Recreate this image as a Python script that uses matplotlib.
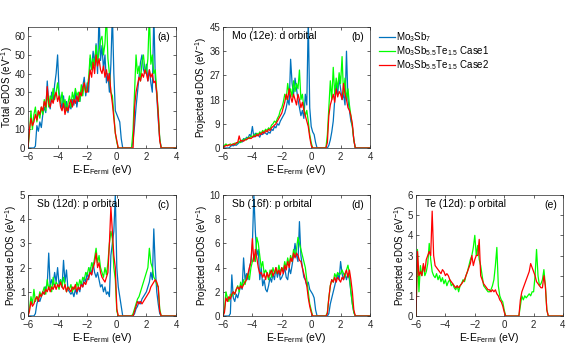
import numpy as np
import matplotlib
matplotlib.use('Agg')
import matplotlib.pyplot as plt

plt.rcParams['font.family'] = ['Liberation Sans', 'DejaVu Sans']
plt.rcParams['mathtext.fontset'] = 'custom'
plt.rcParams['mathtext.rm'] = 'Liberation Sans'
plt.rcParams['mathtext.it'] = 'Liberation Sans:italic'
plt.rcParams['font.size'] = 7

# energy grid (eV, E - E_Fermi), values given from -6.0 to 3.2, zero above
energy = np.round(np.arange(-6.0, 4.05, 0.1), 1)

# (a) total eDOS
a_blue = [0, 0, 0, 0, 0, 1, 12, 9, 14, 11,
          18, 22, 19, 36, 24, 21, 30, 25, 34, 40,
          50, 30, 26, 21, 28, 20, 25, 19, 23, 21,
          26, 23, 30, 22, 28, 25, 31, 33, 38, 28,
          35, 30, 48, 43, 52, 45, 56, 40, 72, 47,
          55, 42, 50, 35, 40, 30, 45, 72, 40, 20,
          18, 16, 14, 5, 0, 0, 0, 0, 0, 0,
          0, 4, 12, 22, 30, 38, 46, 50, 42, 40,
          45, 36, 42, 35, 30, 72, 38, 28, 15, 5,
          0, 0, 0]
a_green = [0, 8, 20, 10, 18, 22, 14, 20, 16, 22,
           18, 26, 20, 30, 22, 28, 25, 32, 26, 30,
           35, 28, 24, 30, 22, 26, 20, 24, 28, 22,
           30, 26, 32, 28, 30, 25, 34, 28, 35, 30,
           32, 38, 50, 42, 48, 44, 55, 46, 52, 58,
           60, 50, 56, 72, 48, 40, 30, 28, 18, 8,
           3, 0, 0, 0, 0, 0, 0, 0, 0, 0,
           0, 10, 30, 50, 40, 44, 36, 46, 50, 42,
           40, 48, 72, 45, 50, 40, 42, 30, 20, 5,
           0, 0, 0]
a_red = [0, 10, 16, 12, 14, 18, 15, 20, 18, 22,
         20, 25, 22, 33, 24, 22, 26, 24, 28, 30,
         25, 28, 22, 20, 24, 18, 22, 20, 24, 26,
         22, 26, 24, 28, 25, 30, 28, 32, 35, 30,
         30, 36, 42, 38, 46, 40, 50, 44, 48, 42,
         40, 44, 38, 42, 36, 40, 30, 24, 16, 8,
         4, 0, 0, 0, 0, 0, 0, 0, 0, 0,
         0, 0, 22, 30, 34, 38, 36, 40, 38, 42,
         40, 36, 42, 38, 40, 35, 36, 30, 18, 4,
         0, 0, 0]

# (b) Mo (12e) d orbital
b_blue = [0, 0, 0, 0, 0, 0.5, 1.0, 0.8, 1.2, 1.0,
          1.5, 2.0, 2.5, 2.2, 3.5, 3.0, 4.0, 3.5, 5.0, 4.5,
          8.0, 4.0, 5.5, 4.5, 5.0, 4.0, 5.5, 5.0, 6.0, 5.5,
          5.0, 6.0, 5.5, 7.0, 6.5, 8.0, 7.5, 9.0, 8.5, 10.0,
          11.0, 12.0, 13.0, 15.0, 18.0, 16.0, 33.0, 24.0, 20.0, 26.0,
          22.0, 18.0, 15.0, 12.0, 14.0, 11.0, 20.0, 16.0, 48.0, 15.0,
          8.0, 6.0, 5.0, 2.0, 0, 0, 0, 0, 0, 0,
          0, 0, 1.0, 3.0, 6.0, 10.0, 18.0, 24.0, 20.0, 26.0,
          22.0, 18.0, 20.0, 16.0, 36.0, 18.0, 14.0, 10.0, 8.0, 3.0,
          0, 0, 0]
b_green = [0, 1.0, 1.5, 1.0, 1.2, 1.5, 1.2, 1.5, 1.8, 1.5,
           2.0, 2.5, 2.0, 3.0, 2.8, 3.5, 3.0, 4.0, 3.5, 4.5,
           4.0, 5.0, 4.5, 5.5, 5.0, 6.0, 5.5, 6.5, 6.0, 7.0,
           6.5, 7.5, 7.0, 8.5, 9.0, 10.0, 9.5, 11.0, 12.0, 14.0,
           15.0, 17.0, 20.0, 18.0, 24.0, 20.0, 22.0, 19.0, 25.0, 21.0,
           24.0, 22.0, 29.0, 18.0, 20.0, 15.0, 12.0, 14.0, 10.0, 5.0,
           2.0, 0, 0, 0, 0, 0, 0, 0, 0, 0,
           0, 5.0, 15.0, 25.0, 18.0, 30.0, 20.0, 26.0, 22.0, 28.0,
           24.0, 34.0, 20.0, 26.0, 18.0, 22.0, 16.0, 12.0, 8.0, 3.0,
           0, 0, 0]
b_red = [0, 0.5, 1.0, 0.8, 1.2, 1.0, 1.2, 1.5, 1.2, 2.0,
         2.0, 4.5, 2.5, 2.8, 2.5, 3.0, 3.2, 3.5, 3.8, 3.5,
         4.0, 4.5, 4.2, 5.0, 4.5, 5.5, 5.0, 6.0, 5.5, 6.5,
         6.0, 7.0, 6.5, 7.5, 8.0, 8.5, 9.0, 10.0, 11.0, 12.0,
         13.0, 15.0, 17.0, 20.0, 18.0, 22.0, 19.0, 17.0, 20.0, 18.0,
         16.0, 20.0, 18.0, 15.0, 17.0, 14.0, 12.0, 10.0, 8.0, 4.0,
         1.0, 0, 0, 0, 0, 0, 0, 0, 0, 0,
         0, 2.0, 12.0, 16.0, 18.0, 20.0, 17.0, 22.0, 19.0, 21.0,
         20.0, 18.0, 24.0, 20.0, 18.0, 15.0, 14.0, 12.0, 9.0, 3.0,
         0, 0, 0]

# (c) Sb (12d) p orbital
c_blue = [0, 0, 0, 0, 0, 0.1, 0.5, 0.7, 0.6, 0.8,
          1.0, 0.9, 1.2, 1.3, 2.6, 1.2, 1.5, 1.3, 1.8, 1.4,
          2.0, 1.3, 1.5, 1.2, 2.3, 1.4, 1.9, 1.1, 1.0, 0.9,
          1.0, 0.8, 1.1, 0.9, 1.2, 1.0, 1.4, 1.2, 1.6, 1.4,
          1.8, 1.5, 2.0, 1.7, 2.2, 1.8, 1.6, 1.8, 1.5, 1.2,
          1.3, 1.0, 1.2, 0.9, 1.0, 0.8, 2.5, 3.0, 3.5, 5.0,
          2.0, 1.2, 0.8, 0.4, 0, 0, 0, 0, 0, 0,
          0, 0, 0.1, 0.3, 0.4, 0.6, 0.5, 0.7, 0.8, 0.9,
          1.0, 1.2, 1.4, 1.8, 1.5, 3.6, 2.0, 1.0, 0.5, 0.1,
          0, 0, 0]
c_green = [0, 0.3, 0.8, 0.5, 1.1, 0.6, 0.8, 0.7, 1.0, 0.8,
           1.0, 1.2, 0.9, 1.5, 1.1, 1.3, 1.0, 1.6, 1.2, 1.4,
           1.3, 1.1, 1.5, 1.2, 1.6, 1.3, 1.0, 1.2, 1.1, 1.3,
           1.0, 1.2, 1.1, 1.4, 1.2, 1.5, 1.3, 1.6, 1.5, 1.8,
           1.7, 2.0, 1.8, 2.2, 2.0, 2.4, 2.8, 2.2, 2.5, 2.0,
           1.8, 1.6, 2.0, 1.7, 2.2, 3.0, 3.5, 3.2, 2.0, 1.5,
           0.2, 0, 0, 0, 0, 0, 0, 0, 0, 0,
           0, 0.1, 0.3, 0.5, 0.7, 0.8, 1.0, 1.2, 1.4, 1.6,
           1.8, 2.0, 2.8, 2.2, 2.0, 1.6, 1.5, 1.3, 1.2, 0.3,
           0, 0, 0]
c_red = [0, 0.2, 0.6, 0.4, 0.5, 0.7, 0.8, 0.6, 0.9, 0.8,
         1.0, 0.9, 1.1, 1.0, 1.2, 1.0, 1.2, 1.1, 1.3, 1.1,
         1.3, 1.2, 1.4, 1.2, 1.1, 1.3, 1.0, 1.2, 1.1, 1.0,
         1.2, 1.1, 1.3, 1.0, 1.2, 1.1, 1.3, 1.2, 1.4, 1.3,
         1.5, 1.6, 1.8, 1.7, 2.0, 2.2, 2.6, 2.0, 2.2, 1.8,
         1.6, 1.5, 1.4, 1.6, 1.8, 3.0, 4.5, 3.5, 2.5, 2.0,
         0.3, 0, 0, 0, 0, 0, 0, 0, 0, 0,
         0, 0, 0.2, 0.4, 0.6, 0.5, 0.6, 0.5, 0.6, 0.7,
         0.8, 0.9, 1.0, 1.2, 1.3, 1.4, 1.5, 1.4, 1.2, 0.2,
         0, 0, 0]

# (d) Sb (16f) p orbital
d_blue = [0, 0, 0, 0, 0, 0.2, 3.4, 1.5, 1.2, 1.8,
          1.5, 2.0, 2.5, 2.2, 4.8, 3.0, 3.5, 3.0, 4.0, 4.5,
          6.0, 10.0, 7.0, 5.0, 5.5, 3.0, 4.0, 2.5, 3.0, 2.2,
          2.0, 2.5, 3.2, 2.8, 3.5, 3.0, 4.0, 3.2, 3.8, 3.0,
          3.2, 3.5, 4.0, 3.2, 3.0, 4.0, 3.5, 4.2, 5.0, 6.0,
          5.0, 4.5, 7.8, 5.0, 4.0, 3.2, 3.0, 2.5, 2.8, 2.2,
          2.0, 1.8, 1.5, 0.5, 0, 0, 0, 0, 0, 0,
          0, 0, 0.2, 1.0, 1.5, 2.0, 2.5, 3.0, 3.5, 3.0,
          4.5, 3.5, 3.0, 3.5, 3.0, 3.5, 3.0, 2.0, 1.0, 0.3,
          0, 0, 0]
d_green = [0, 0.5, 2.0, 1.5, 1.2, 1.8, 1.6, 2.0, 1.8, 2.2,
           2.5, 2.0, 2.8, 2.4, 3.0, 2.6, 3.2, 3.5, 3.0, 4.0,
           4.5, 5.0, 4.5, 6.5, 6.0, 5.0, 4.0, 4.5, 3.5, 3.8,
           3.5, 3.0, 3.8, 3.2, 4.0, 3.5, 3.8, 3.5, 4.2, 3.6,
           4.0, 3.8, 4.5, 4.0, 4.8, 4.2, 5.0, 4.5, 5.5, 5.0,
           5.5, 6.5, 6.0, 5.5, 5.0, 4.5, 4.0, 3.0, 2.0, 1.0,
           0.5, 0, 0, 0, 0, 0, 0, 0, 0, 0,
           0, 0.3, 1.5, 2.5, 3.0, 2.8, 3.5, 3.2, 3.6, 3.4,
           3.5, 3.8, 3.5, 3.2, 3.8, 4.2, 3.5, 2.0, 1.0, 0.3,
           0, 0, 0]
d_red = [0, 0.3, 1.5, 1.2, 1.6, 1.4, 1.8, 2.0, 1.8, 2.2,
         2.4, 2.2, 2.5, 2.3, 2.6, 2.8, 3.0, 3.5, 4.0, 4.5,
         6.4, 4.5, 5.5, 4.8, 4.0, 3.5, 3.6, 3.2, 3.5, 3.0,
         3.6, 3.2, 3.5, 3.8, 3.3, 3.6, 4.0, 3.5, 3.8, 3.4,
         4.0, 3.5, 4.2, 3.8, 4.5, 4.0, 4.8, 4.5, 5.2, 4.8,
         5.2, 5.0, 4.6, 4.5, 4.0, 3.5, 3.0, 2.5, 1.5, 0.8,
         0.3, 0, 0, 0, 0, 0, 0, 0, 0, 0,
         0, 0.2, 1.5, 2.5, 3.0, 2.8, 3.2, 2.8, 3.2, 3.0,
         2.8, 3.2, 3.0, 3.5, 3.8, 3.2, 3.8, 3.0, 2.0, 0.5,
         0, 0, 0]

# (e) Te (12d) p orbital (no Te in Mo3Sb7)
e_green = [0, 3.3, 1.2, 2.5, 2.0, 2.5, 2.0, 2.2, 2.6, 3.6,
           2.8, 2.2, 2.0, 1.9, 2.1, 1.8, 2.0, 1.7, 1.9, 1.6,
           1.8, 1.5, 1.7, 1.8, 1.5, 1.6, 1.4, 1.3, 1.5, 1.2,
           1.5, 1.6, 1.8, 1.7, 2.0, 2.2, 2.5, 2.8, 3.0, 3.4,
           4.0, 3.0, 3.5, 2.8, 2.5, 2.0, 1.5, 1.4, 1.3, 1.2,
           1.2, 1.3, 1.5, 1.8, 2.5, 3.4, 1.5, 1.0, 0.8, 0.7,
           0.3, 0, 0, 0, 0, 0, 0, 0, 0, 0,
           0, 0.5, 1.0, 0.8, 1.0, 0.9, 1.0, 1.1, 1.0, 1.2,
           1.2, 2.0, 3.3, 2.0, 1.5, 1.6, 1.8, 2.3, 1.5, 0.3,
           0, 0, 0]
e_red = [0, 3.2, 2.0, 2.2, 2.0, 2.6, 2.2, 2.8, 3.0, 3.2,
         3.0, 5.2, 3.0, 2.5, 2.4, 2.3, 2.2, 2.1, 2.3, 2.2,
         2.0, 2.1, 2.0, 1.8, 1.7, 1.6, 1.5, 1.4, 1.5, 1.4,
         1.5, 1.6, 1.7, 1.8, 2.0, 2.2, 2.4, 2.6, 3.0, 2.5,
         2.8, 3.0, 3.0, 3.8, 2.0, 1.8, 1.6, 1.5, 1.4, 1.3,
         1.3, 1.2, 1.3, 1.2, 1.3, 1.1, 1.0, 0.8, 0.7, 0.5,
         0.2, 0, 0, 0, 0, 0, 0, 0, 0, 0,
         0, 0.8, 1.2, 1.4, 1.6, 1.8, 2.0, 2.2, 2.6, 2.4,
         2.2, 2.0, 1.7, 1.6, 1.5, 1.4, 1.4, 2.0, 1.5, 0.3,
         0, 0, 0]

labels = [r'Mo$_3$Sb$_7$',
          r'Mo$_3$Sb$_{5.5}$Te$_{1.5}$ Case1',
          r'Mo$_3$Sb$_{5.5}$Te$_{1.5}$ Case2']
colors = ['#0072BD', '#00FF00', '#FF0000']

panels = [
    dict(series=[a_blue, a_green, a_red], ymax=65, yticks=[0, 10, 20, 30, 40, 50, 60],
         ylabel='Total eDOS (eV$^{-1}$)', title='', tag='(a)'),
    dict(series=[b_blue, b_green, b_red], ymax=45, yticks=[0, 9, 18, 27, 36, 45],
         ylabel='Projected eDOS (eV$^{-1}$)', title='Mo (12e): d orbital', tag='(b)'),
    dict(series=[c_blue, c_green, c_red], ymax=5, yticks=[0, 1, 2, 3, 4, 5],
         ylabel='Projected eDOS (eV$^{-1}$)', title='Sb (12d): p orbital', tag='(c)'),
    dict(series=[d_blue, d_green, d_red], ymax=10, yticks=[0, 2, 4, 6, 8, 10],
         ylabel='Projected eDOS (eV$^{-1}$)', title='Sb (16f): p orbital', tag='(d)'),
    dict(series=[None, e_green, e_red], ymax=6, yticks=[0, 1, 2, 3, 4, 5, 6],
         ylabel='Projected eDOS (eV$^{-1}$)', title='Te (12d): p orbital', tag='(e)'),
]

W, H = 568, 356
# axes boxes in pixels: left, top, width, height; plus x of the y-label centre
boxes = [(28, 27, 148, 121), (223, 27, 147, 121),
         (28, 195, 148, 121), (223, 195, 147, 121), (416, 195, 147, 121)]
ylabel_x = [7, 201, 11, 202, 400]

fig = plt.figure(figsize=(W / 100, H / 100), dpi=100)

handles = []
for p, (x0, y0, w, h), lx in zip(panels, boxes, ylabel_x):
    ax = fig.add_axes([x0 / W, 1 - (y0 + h) / H, w / W, h / H])
    for vals, c in zip(p['series'], colors):
        if vals is None:
            continue
        y = np.pad(np.array(vals, dtype=float), (0, len(energy) - len(vals)))
        ln, = ax.plot(energy, y, color=c, lw=0.9)
        if p['tag'] == '(a)':
            handles.append(ln)
    ax.set_xlim(-6, 4)
    ax.set_ylim(0, p['ymax'])
    ax.set_xticks([-6, -4, -2, 0, 2, 4])
    ax.set_yticks(p['yticks'])
    ax.tick_params(direction='in', length=2, width=0.5, top=True, right=True,
                   labelsize=7, pad=2, colors='#262626')
    ax.tick_params(axis='x', pad=3)
    for s in ax.spines.values():
        s.set_linewidth(0.5)
        s.set_color('#262626')
    ax.set_xlabel(r'E-E$_{\mathrm{Fermi}}$ (eV)', fontsize=7.5, labelpad=0.5)
    ax.set_ylabel(p['ylabel'], fontsize=7, va='center')
    ax.yaxis.set_label_coords((lx - x0) / w, 0.5)
    ax.text(0.96, 0.96, p['tag'], transform=ax.transAxes, ha='right', va='top', fontsize=7.5)
    if p['title']:
        ax.text(0.06, 0.97, p['title'], transform=ax.transAxes, ha='left', va='top', fontsize=7.5)

fig.legend(handles, labels, loc='upper left', bbox_to_anchor=(379 / W, 1 - 30 / H),
           frameon=False, fontsize=7, handlelength=1.6, handletextpad=0.15,
           borderpad=0, labelspacing=0.05, borderaxespad=0)

fig.savefig('out.png', dpi=100)
